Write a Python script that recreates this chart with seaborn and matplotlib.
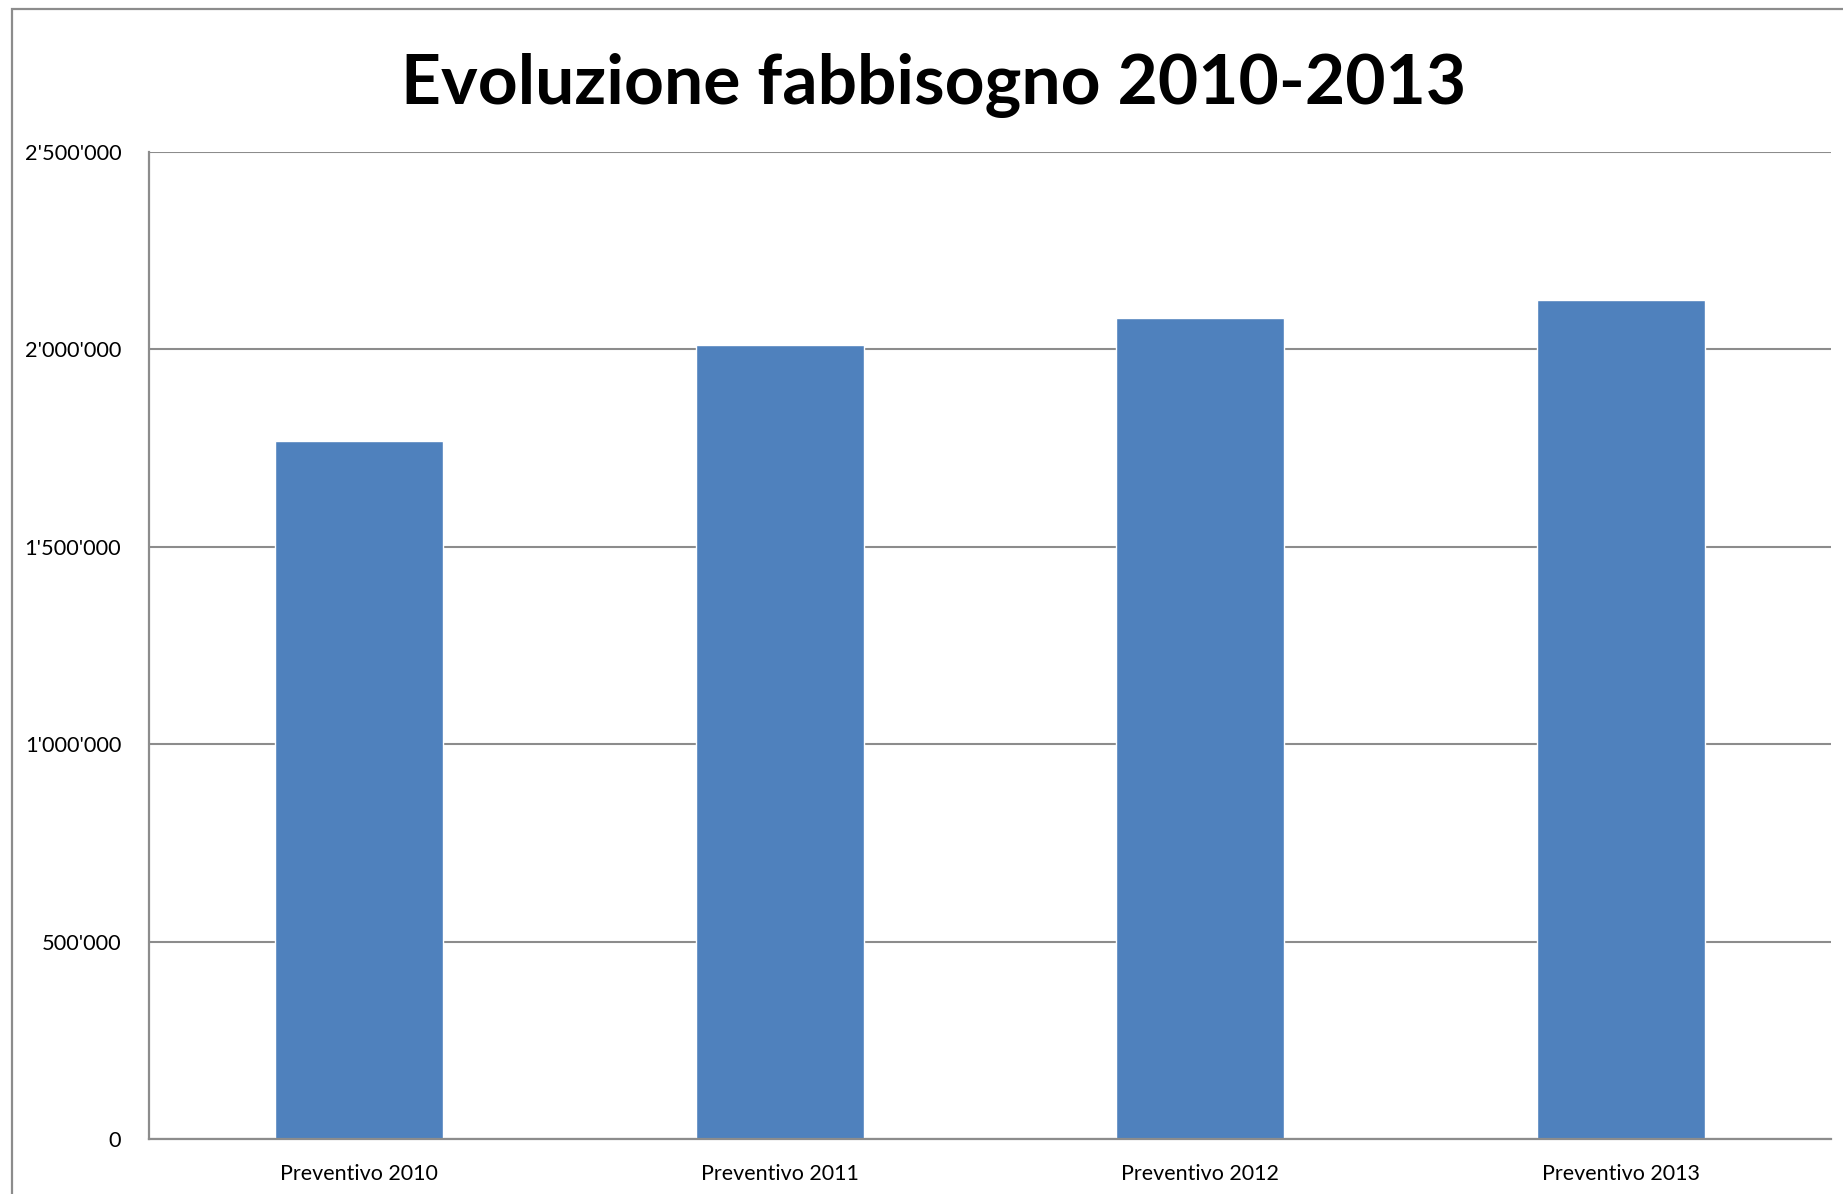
import matplotlib
matplotlib.use("Agg")
import matplotlib.pyplot as plt
import matplotlib.patches as mpatches
import seaborn as sns
import pandas as pd

categories = ["Preventivo 2010", "Preventivo 2011", "Preventivo 2012", "Preventivo 2013"]
values = [1768000, 2010000, 2080000, 2125000]
yticks = [0, 500000, 1000000, 1500000, 2000000, 2500000]
title = "Evoluzione fabbisogno 2010-2013"

sns.set_theme(style="white")
plt.rcParams['font.family'] = ['Lato', 'DejaVu Sans']

W, H = 1843, 1194
fig = plt.figure(figsize=(W / 100, H / 100), dpi=100)
ax = fig.add_axes([149 / W, 1 - 1139 / H, (1831 - 149) / W, (1139 - 152) / H])

df = pd.DataFrame({"cat": categories, "val": values})
sns.barplot(data=df, x="cat", y="val", color="#4F81BD", saturation=1, width=0.4, ax=ax)

ax.set_xlim(-0.5, len(categories) - 0.5)
ax.set_ylim(0, 2500000)
ax.set_yticks(yticks)
ax.set_yticklabels([f"{v:,}".replace(",", "'") for v in yticks], fontsize=15.7, color="black")
ax.tick_params(axis="x", labelsize=15.5, colors="black", pad=18, length=0)
ax.tick_params(axis="y", pad=20, length=0)
ax.set_xlabel("")
ax.set_ylabel("")
ax.yaxis.grid(True, color="#8C8C8C", linewidth=1.5)
ax.set_axisbelow(True)
for s in ["top", "right"]:
    ax.spines[s].set_visible(False)
for s in ["left", "bottom"]:
    ax.spines[s].set_color("#8C8C8C")
    ax.spines[s].set_linewidth(1.6)

fig.text(934 / W, 1 - 104 / H, title, ha="center", va="baseline",
         fontsize=50, fontweight="bold", color="black")

border = mpatches.Rectangle((12 / W, -0.05), 1.2, 1.05 - 9 / H, transform=fig.transFigure,
                            fill=False, edgecolor="#8C8C8C", linewidth=1.6)
fig.patches.append(border)

fig.savefig("out.png", dpi=100)
